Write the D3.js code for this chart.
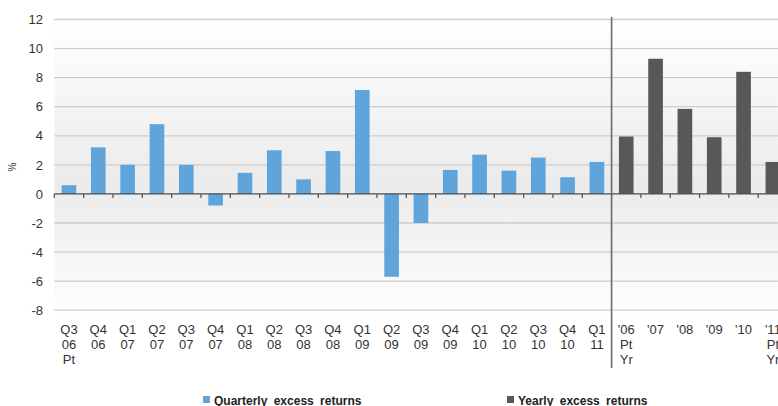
<!DOCTYPE html>
<html><head><meta charset="utf-8">
<script src="https://cdn.jsdelivr.net/npm/d3@7"></script>
<style>body{margin:0;background:#fff}svg{display:block}text{font-family:"Liberation Sans",Arial,sans-serif}</style>
</head><body><div id="chart"></div>
<script>
const quarterLabels = [["Q3","06","Pt"],["Q4","06"],["Q1","07"],["Q2","07"],["Q3","07"],["Q4","07"],["Q1","08"],["Q2","08"],["Q3","08"],["Q4","08"],["Q1","09"],["Q2","09"],["Q3","09"],["Q4","09"],["Q1","10"],["Q2","10"],["Q3","10"],["Q4","10"],["Q1","11"]];
const quarterlyValues = [0.6,3.2,2.0,4.8,2.0,-0.8,1.45,3.0,1.0,2.95,7.15,-5.7,-2.0,1.65,2.7,1.6,2.5,1.15,2.2];
const yearLabels = [["'06","Pt","Yr"],["'07"],["'08"],["'09"],["'10"],["'11","Pt","Yr"]];
const yearlyValues = [3.95,9.3,5.85,3.9,8.4,2.2];
const yTicks = [-8,-6,-4,-2,0,2,4,6,8,10,12];
const seriesNames = ["Quarterly excess returns","Yearly excess returns"];
const colors = ["#5fa5dc","#585858"];

const W = 778, H = 406;
const svg = d3.select("#chart").append("svg").attr("width", W).attr("height", H);

const nQ = quarterLabels.length, nY = yearLabels.length;
const cats = d3.range(nQ + nY);
const x0 = 54.3, step = 29.33;
const x = d3.scaleBand().domain(cats).range([x0, x0 + step * cats.length]).paddingInner(0.5).paddingOuter(0.25);
const y = d3.scaleLinear().domain([-8, 12]).range([310.2, 19.5]);

const defs = svg.append("defs");
const g = defs.append("linearGradient").attr("id","bg").attr("x1",0).attr("y1",0).attr("x2",0).attr("y2",1);
g.append("stop").attr("offset","0%").attr("stop-color","#ffffff");
g.append("stop").attr("offset","55%").attr("stop-color","#ebebeb");
g.append("stop").attr("offset","100%").attr("stop-color","#ffffff");
svg.append("rect").attr("x", x0).attr("y", y(12)).attr("width", W - x0).attr("height", 320 - y(12)).attr("fill","url(#bg)");

// gridlines
svg.append("g").selectAll("line").data(yTicks.filter(d => d !== 0)).join("line")
  .attr("x1", x0).attr("x2", W).attr("y1", d => y(d)).attr("y2", d => y(d))
  .attr("stroke", "#cdcdcd").attr("stroke-width", 1.3);

// y labels
svg.append("g").selectAll("text").data(yTicks).join("text")
  .attr("x", 43).attr("y", d => y(d)).attr("dy", "0.36em").attr("text-anchor","end")
  .attr("font-size", 13).attr("fill","#333").text(d => d);
svg.append("text").attr("transform","translate(16,167) rotate(-90)").attr("text-anchor","middle")
  .attr("font-size", 10).attr("fill","#333").text("%");

// bars
const allVals = quarterlyValues.map((v,i)=>({i, v, s:0})).concat(yearlyValues.map((v,i)=>({i:i+nQ, v, s:1})));
svg.append("g").selectAll("rect").data(allVals).join("rect")
  .attr("x", d => x(d.i)).attr("width", x.bandwidth())
  .attr("y", d => y(Math.max(0, d.v))).attr("height", d => Math.abs(y(d.v) - y(0)))
  .attr("fill", d => colors[d.s]);

// zero axis and ticks
svg.append("line").attr("x1", x0).attr("x2", W).attr("y1", y(0)).attr("y2", y(0)).attr("stroke","#4d4d4d").attr("stroke-width",1.2);
svg.append("g").selectAll("line").data(d3.range(cats.length + 1)).join("line")
  .attr("x1", i => x0 + i * x.step()).attr("x2", i => x0 + i * x.step())
  .attr("y1", y(0)).attr("y2", y(0) + 4).attr("stroke","#4d4d4d").attr("stroke-width",1.2);

// separator
const sepX = x0 + nQ * x.step();
svg.append("line").attr("x1", sepX).attr("x2", sepX).attr("y1", 17).attr("y2", 368).attr("stroke","#6a6a6a").attr("stroke-width",1.6);

// x labels
const allLabels = quarterLabels.concat(yearLabels);
const lab = svg.append("g").selectAll("text").data(allLabels).join("text")
  .attr("text-anchor","middle").attr("font-size",13).attr("fill","#333");
lab.each(function(lines, i) {
  const t = d3.select(this);
  lines.forEach((l, k) => {
    t.append("tspan").attr("x", x(i) + x.bandwidth() / 2).attr("y", 334 + k * 15).text(l);
  });
});

// legend
const legend = [{x: 203, name: seriesNames[0], c: colors[0]}, {x: 507, name: seriesNames[1], c: colors[1]}];
const lg = svg.append("g").selectAll("g").data(legend).join("g");
lg.append("rect").attr("x", d => d.x).attr("y", 396).attr("width", 7).attr("height", 7).attr("fill", d => d.c);
lg.append("text").attr("x", d => d.x + 11).attr("y", 405).attr("font-size", 12).attr("font-weight","bold")
  .attr("word-spacing", 3).attr("fill","#222").text(d => d.name);
</script></body></html>
